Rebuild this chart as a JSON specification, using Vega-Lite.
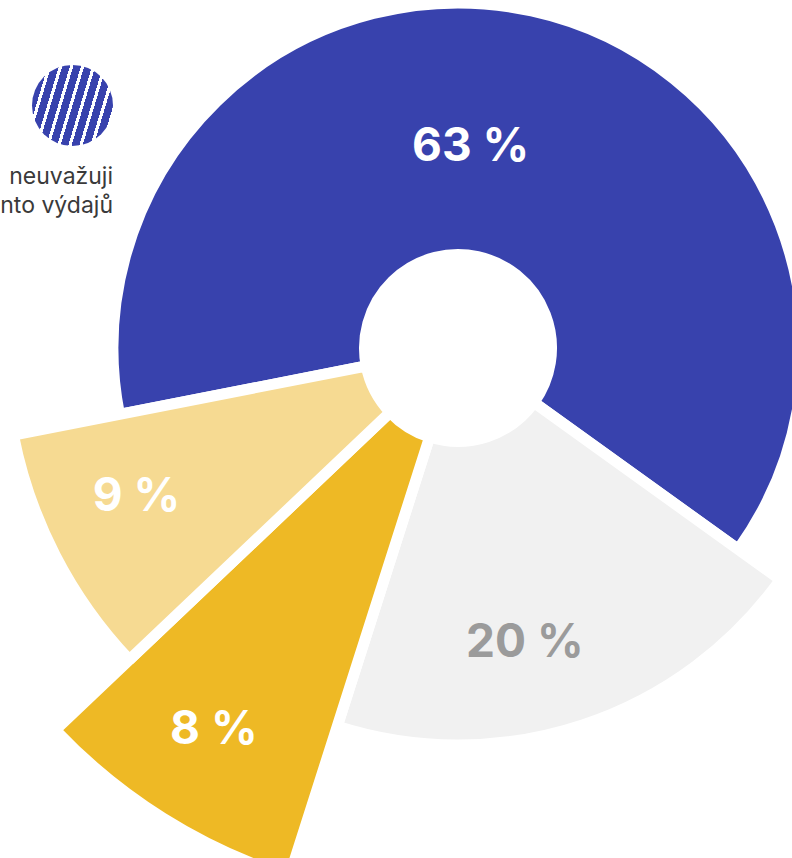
{
  "$schema": "https://vega.github.io/schema/vega-lite/v6.json",
  "width": 668,
  "height": 696,
  "autosize": "none",
  "padding": {"left": 124, "top": 0, "right": 0, "bottom": 162},
  "background": "white",
  "view": {"stroke": null},
  "title": {"text": "- 20 -", "anchor": "end", "frame": "group", "orient": "top", "offset": 0, "dx": -12, "dy": 12, "fontSize": 20, "font": "Inter", "fontWeight": 300, "color": "#3842AD", "baseline": "alphabetic"},
  "data": {"values": [
    {"kategorie": "neuvažuji", "pct": 63, "label": "63 %", "poradi": 1},
    {"kategorie": "Nevím", "pct": 20, "label": "20 %", "poradi": 2},
    {"kategorie": "Ano", "pct": 8, "label": "8 %", "poradi": 3},
    {"kategorie": "Spíše ano", "pct": 9, "label": "9 %", "poradi": 4}
  ]},
  "encoding": {
    "theta": {"field": "pct", "type": "quantitative", "stack": true, "scale": {"range": [4.5187, 10.8019]}},
    "order": {"field": "poradi", "type": "quantitative"}
  },
  "layer": [
    {
      "mark": {"type": "arc", "innerRadius": 93.5, "stroke": "#ffffff", "strokeWidth": 11, "strokeJoin": "bevel"},
      "encoding": {
        "radius": {"field": "pct", "type": "quantitative", "scale": {"type": "linear", "zero": false, "domain": [8, 9, 20, 63], "range": [555, 453, 397, 345]}},
        "fill": {
          "field": "kategorie", "type": "nominal", "legend": null,
          "scale": {"domain": ["Spíše ano", "Ano", "Nevím", "neuvažuji"], "range": ["#F6DA92", "#EEB925", "#F1F1F1", "#3842AD"]}
        },
        "opacity": {
          "field": "kategorie", "type": "nominal",
          "scale": {"domain": ["neuvažuji", "Nevím", "Ano", "Spíše ano"], "range": [1, 1, 1, 1]},
          "legend": {
            "values": ["neuvažuji"], "orient": "none", "legendX": -127, "legendY": 65, "padding": 0,
            "symbolType": "circle", "symbolSize": 6561, "symbolOffset": 35, "symbolStrokeWidth": 0, "symbolOpacity": 1,
            "labelExpr": "''", "labelOffset": 0,
            "title": ["neuvažuji", "nto výdajů"], "titleOrient": "bottom", "titleAnchor": "end", "titleAlign": "right",
            "titleFont": "Inter", "titleFontSize": 23, "titleFontWeight": 400, "titleColor": "#3a3a3a", "titleLineHeight": 29, "titlePadding": 20, "titleLimit": 0,
            "symbolFillColor": {"expr": "{gradient: 'linear', x1: 0, y1: 0.35, x2: 1, y2: 0.65, stops: [{offset: 0, color: '#3842AD'}, {offset: 0.0875, color: '#3842AD'}, {offset: 0.0875, color: '#ffffff'}, {offset: 0.125, color: '#ffffff'}, {offset: 0.125, color: '#3842AD'}, {offset: 0.2125, color: '#3842AD'}, {offset: 0.2125, color: '#ffffff'}, {offset: 0.25, color: '#ffffff'}, {offset: 0.25, color: '#3842AD'}, {offset: 0.3375, color: '#3842AD'}, {offset: 0.3375, color: '#ffffff'}, {offset: 0.375, color: '#ffffff'}, {offset: 0.375, color: '#3842AD'}, {offset: 0.4625, color: '#3842AD'}, {offset: 0.4625, color: '#ffffff'}, {offset: 0.5, color: '#ffffff'}, {offset: 0.5, color: '#3842AD'}, {offset: 0.5875, color: '#3842AD'}, {offset: 0.5875, color: '#ffffff'}, {offset: 0.625, color: '#ffffff'}, {offset: 0.625, color: '#3842AD'}, {offset: 0.7125, color: '#3842AD'}, {offset: 0.7125, color: '#ffffff'}, {offset: 0.75, color: '#ffffff'}, {offset: 0.75, color: '#3842AD'}, {offset: 0.8375, color: '#3842AD'}, {offset: 0.8375, color: '#ffffff'}, {offset: 0.875, color: '#ffffff'}, {offset: 0.875, color: '#3842AD'}, {offset: 0.9625, color: '#3842AD'}, {offset: 0.9625, color: '#ffffff'}, {offset: 1, color: '#ffffff'}]}"}
          }
        },
        "strokeDash": {
          "field": "label", "type": "nominal",
          "scale": {"domain": ["20 %", "63 %", "8 %", "9 %"], "range": [[1, 0], [1, 0], [1, 0], [1, 0]]},
          "legend": {
            "values": ["20 %"], "orient": "none", "legendX": 558, "legendY": 754, "padding": 0,
            "symbolType": "circle", "symbolSize": 4489, "symbolStrokeWidth": 0, "symbolOpacity": 1,
            "labelExpr": "''", "labelOffset": 0,
            "title": "Nevím", "titleOrient": "bottom", "titleAnchor": "middle", "titleAlign": "center",
            "titleFont": "Inter", "titleFontSize": 23, "titleFontWeight": 400, "titleColor": "#3a3a3a", "titlePadding": 14, "titleLimit": 0,
            "symbolFillColor": {"expr": "{gradient: 'linear', x1: 0, y1: 0.35, x2: 1, y2: 0.65, stops: [{offset: 0, color: '#F1F1F1'}, {offset: 0.1, color: '#F1F1F1'}, {offset: 0.1, color: '#ffffff'}, {offset: 0.1429, color: '#ffffff'}, {offset: 0.1429, color: '#F1F1F1'}, {offset: 0.2429, color: '#F1F1F1'}, {offset: 0.2429, color: '#ffffff'}, {offset: 0.2857, color: '#ffffff'}, {offset: 0.2857, color: '#F1F1F1'}, {offset: 0.3857, color: '#F1F1F1'}, {offset: 0.3857, color: '#ffffff'}, {offset: 0.4286, color: '#ffffff'}, {offset: 0.4286, color: '#F1F1F1'}, {offset: 0.5286, color: '#F1F1F1'}, {offset: 0.5286, color: '#ffffff'}, {offset: 0.5714, color: '#ffffff'}, {offset: 0.5714, color: '#F1F1F1'}, {offset: 0.6714, color: '#F1F1F1'}, {offset: 0.6714, color: '#ffffff'}, {offset: 0.7143, color: '#ffffff'}, {offset: 0.7143, color: '#F1F1F1'}, {offset: 0.8143, color: '#F1F1F1'}, {offset: 0.8143, color: '#ffffff'}, {offset: 0.8571, color: '#ffffff'}, {offset: 0.8571, color: '#F1F1F1'}, {offset: 0.9571, color: '#F1F1F1'}, {offset: 0.9571, color: '#ffffff'}, {offset: 1, color: '#ffffff'}]}"}
          }
        }
      }
    },
    {
      "mark": {"type": "text", "radius": 200, "dx": -30, "dy": -6, "font": "Inter", "fontWeight": 700, "fontSize": 46, "color": "#ffffff"},
      "encoding": {"text": {"condition": {"test": "datum.kategorie === 'neuvažuji'", "field": "label", "type": "nominal"}, "value": ""}}
    },
    {
      "mark": {"type": "text", "radius": 302, "dx": -28, "dy": 8, "font": "Inter", "fontWeight": 700, "fontSize": 46, "color": "#9B9B9B"},
      "encoding": {"text": {"condition": {"test": "datum.kategorie === 'Nevím'", "field": "label", "type": "nominal"}, "value": ""}}
    },
    {
      "mark": {"type": "text", "radius": 450, "dx": -5, "dy": 1, "font": "Inter", "fontWeight": 700, "fontSize": 46, "color": "#ffffff"},
      "encoding": {"text": {"condition": {"test": "datum.kategorie === 'Ano'", "field": "label", "type": "nominal"}, "value": ""}}
    },
    {
      "mark": {"type": "text", "radius": 354, "dx": -7, "dy": -13, "font": "Inter", "fontWeight": 700, "fontSize": 46, "color": "#ffffff"},
      "encoding": {"text": {"condition": {"test": "datum.kategorie === 'Spíše ano'", "field": "label", "type": "nominal"}, "value": ""}}
    }
  ]
}
